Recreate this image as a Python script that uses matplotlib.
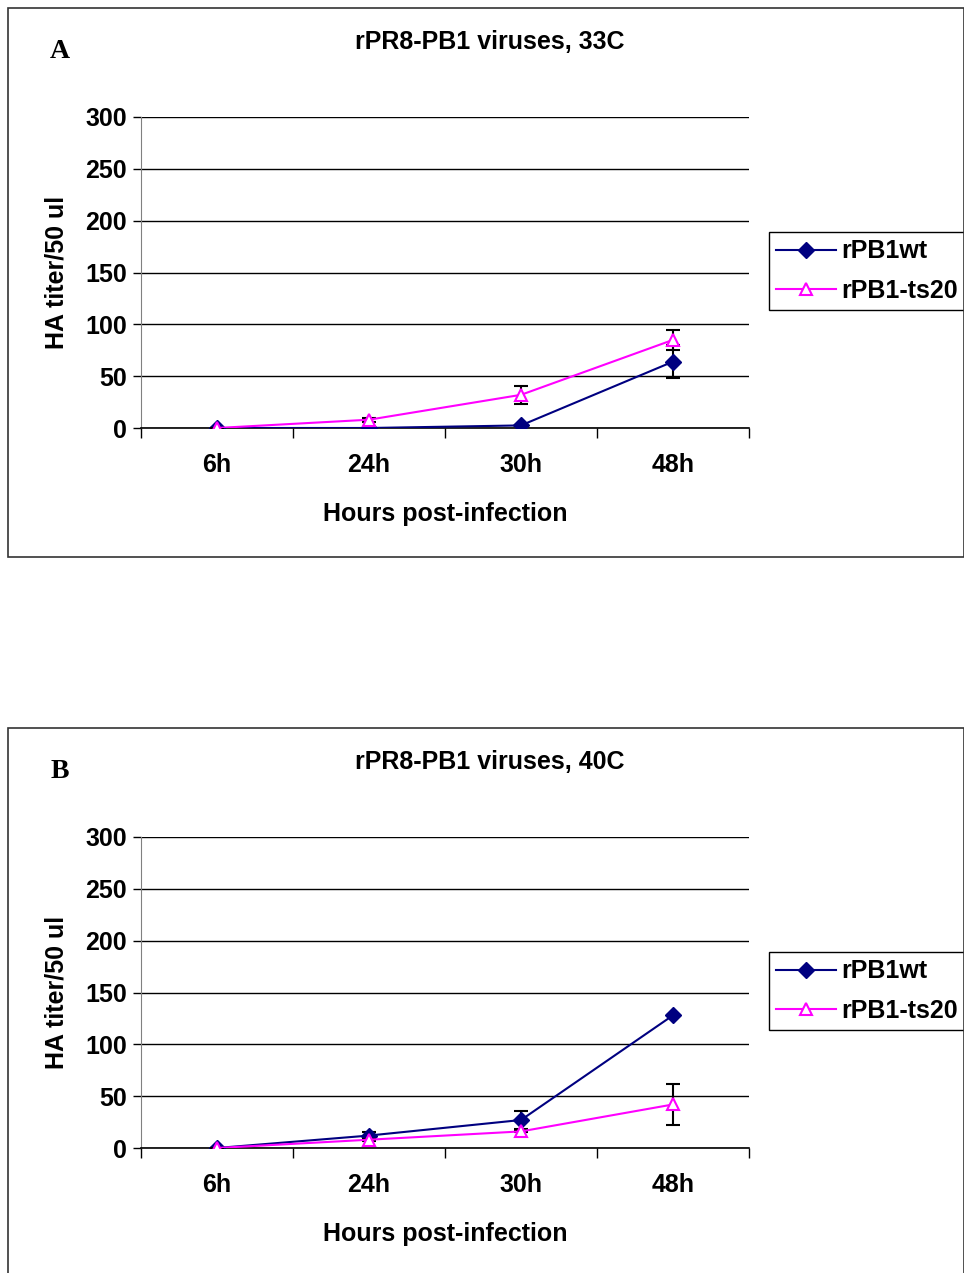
import matplotlib.pyplot as plt
from matplotlib.patches import Rectangle
from matplotlib.lines import Line2D

# data
hours = ["6h", "24h", "30h", "48h"]

wt_33 = [0, 0, 2.5, 64]
wt_33_err = [0, 1, 0, 16]
ts20_33 = [0, 8, 32, 85]
ts20_33_err = [0, 2, 8.5, 10]

wt_40 = [0, 12, 27, 128]
wt_40_err = [0, 3, 9, 0]
ts20_40 = [0, 8, 16, 42]
ts20_40_err = [0, 1, 1, 20]

yticks = [0, 50, 100, 150, 200, 250, 300]

W, H = 964, 1273
fig = plt.figure(figsize=(W / 100, H / 100), dpi=100)
fnt = "Liberation Sans"
FS = 18


def px(x0, y0, x1, y1):
    # pixel box (top-left origin) -> figure fraction
    return [x0 / W, 1 - y1 / H, (x1 - x0) / W, (y1 - y0) / H]


def panel(top, letter, title, wt, wt_err, ts, ts_err):
    # outer frame
    b = px(8, top, 964, top + 549)
    fig.patches.append(Rectangle((b[0], b[1]), b[2], b[3], transform=fig.transFigure,
                                 fill=False, lw=1.2, ec="#333333"))
    fig.text(60 / W, 1 - (top + 44) / H, letter, fontsize=20, fontweight="bold",
             family="Liberation Serif", ha="center", va="center")
    fig.text(490 / W, 1 - (top + 34) / H, title, fontsize=18, fontweight="bold",
             family=fnt, ha="center", va="center")

    ax = fig.add_axes(px(141, top + 109, 749, top + 420))
    x = range(len(hours))
    ax.errorbar(x, wt, yerr=wt_err, color="#000080", lw=1.5, marker="D", ms=8,
                mfc="#000080", mec="#000080", ecolor="black", elinewidth=1.5,
                capsize=5, capthick=1.5, zorder=3)
    ax.errorbar(x, ts, yerr=ts_err, color="#FF00FF", lw=1.5, marker="^", ms=9,
                mfc="white", mec="#FF00FF", mew=1.5, ecolor="black", elinewidth=1.5,
                capsize=5, capthick=1.5, zorder=4)

    ax.set_xlim(-0.5, 3.5)
    ax.set_ylim(0, 300)
    ax.set_yticks(yticks)
    ax.set_yticklabels([str(v) for v in yticks], fontsize=FS, fontweight="bold", family=fnt)
    ax.set_xticks([-0.5, 0.5, 1.5, 2.5, 3.5])
    ax.set_xticklabels([])
    ax.set_xticks(list(x), minor=True)
    ax.set_xticklabels(hours, minor=True, fontsize=FS, fontweight="bold", family=fnt)
    ax.tick_params(axis="x", which="minor", length=0, pad=18)
    ax.tick_params(axis="x", which="major", length=7, width=1, direction="out")
    ax.tick_params(axis="y", length=6, width=1, direction="out", pad=4)
    ax.yaxis.grid(True, color="black", lw=1)
    ax.set_axisbelow(True)
    for s in ["top", "right"]:
        ax.spines[s].set_visible(False)
    ax.spines["left"].set_color("#808080")
    ax.spines["bottom"].set_linewidth(1.2)

    ax.set_ylabel("HA titer/50 ul", fontsize=FS, fontweight="bold", family=fnt, labelpad=12)
    ax.set_xlabel("Hours post-infection", fontsize=FS, fontweight="bold", family=fnt, labelpad=18)

    handles = [
        Line2D([], [], color="#000080", lw=1.5, marker="D", ms=8, mfc="#000080", mec="#000080"),
        Line2D([], [], color="#FF00FF", lw=1.5, marker="^", ms=9, mfc="white", mec="#FF00FF", mew=1.5),
    ]
    lb = px(771, top + 221, 963, top + 305)
    ax.legend(handles, ["rPB1wt", "rPB1-ts20"], loc="center", bbox_to_anchor=(lb[0], lb[1], lb[2], lb[3]),
              bbox_transform=fig.transFigure, frameon=True, fancybox=False,
              edgecolor="black", framealpha=1, prop={"family": fnt, "weight": "bold", "size": FS},
              handlelength=2.4, borderpad=0.3, labelspacing=0.6, handletextpad=0.2, borderaxespad=0)


panel(8, "A", "rPR8-PB1 viruses, 33C", wt_33, wt_33_err, ts20_33, ts20_33_err)
panel(728, "B", "rPR8-PB1 viruses, 40C", wt_40, wt_40_err, ts20_40, ts20_40_err)

fig.savefig("out.png", dpi=100, facecolor="white")
